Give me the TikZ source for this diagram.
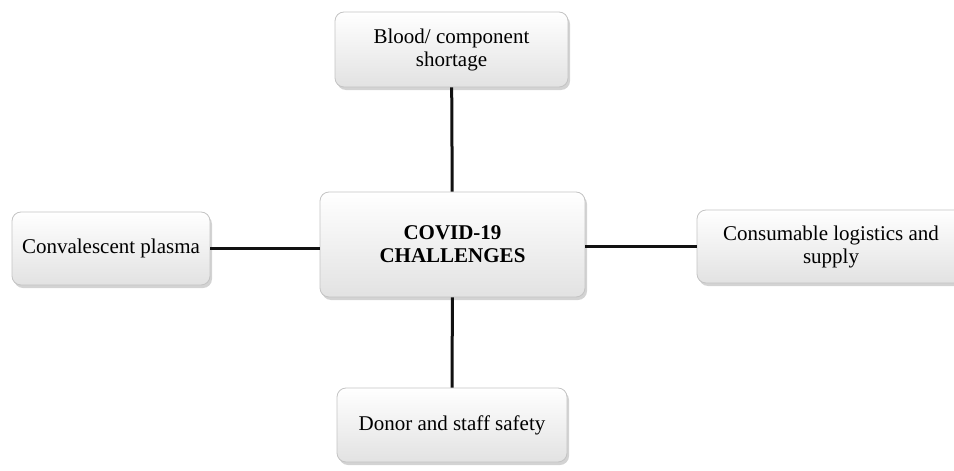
\documentclass[tikz,border=0pt]{standalone}
\usepackage{fontspec}
\setmainfont{Liberation Serif}
\usepackage{tikz}
\usetikzlibrary{positioning,shadows}
\definecolor{Ink}{HTML}{111111}
\definecolor{Rim}{HTML}{C4C4C4}
\definecolor{Shade}{HTML}{E2E2E2}
\tikzset{
  box/.style={rectangle,rounded corners=9pt,draw=Rim,line width=.8pt,top color=white,bottom color=Shade,
    drop shadow={shadow xshift=2pt,shadow yshift=-3pt,opacity=.35},
    align=center,inner sep=0pt,font=\fontsize{21}{23}\selectfont},
  hub/.style={box,font=\fontsize{21}{23}\selectfont\bfseries},
  link/.style={draw=Ink,line width=3pt}
}
\begin{document}
\begin{tikzpicture}[x=1pt,y=-1pt]
  \useasboundingbox (0,0) rectangle (954,471);
  \node[hub,minimum width=265pt,minimum height=105pt] (hub) at (452.5,244.5) {COVID-19\\CHALLENGES};
  \node[box,minimum width=233pt,minimum height=75pt] (short) at (451.5,49.5) {Blood/ component\\shortage};
  \node[box,minimum width=198pt,minimum height=73pt] (plasma) at (111,248.5) {Convalescent plasma};
  \node[box,minimum width=268pt,minimum height=73pt] (supply) at (831,246.5) {Consumable logistics and\\supply};
  \node[box,minimum width=230pt,minimum height=74pt] (safety) at (452,425) {Donor and staff safety};
  \draw[link] (short) -- (hub);
  \draw[link] (plasma.east) -- (hub.west|-plasma.east);
  \draw[link] (hub.east|-supply.west) -- (supply.west);
  \draw[link] (hub) -- (safety);
\end{tikzpicture}
\end{document}
